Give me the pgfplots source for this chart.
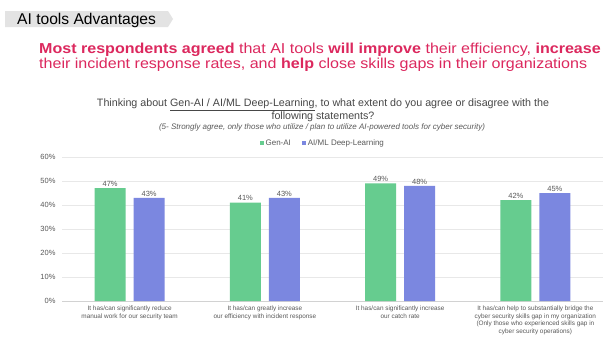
\documentclass[border=0pt]{standalone}
\usepackage{pgfplots}
\pgfplotsset{compat=1.18}
\usepackage{fontspec}
\setmainfont{Liberation Sans}
\newfontfamily\widefont[FakeStretch=1.115]{Liberation Sans}
\definecolor{cgreen}{RGB}{102,204,143}
\definecolor{cblue}{RGB}{123,135,224}
\definecolor{cpink}{RGB}{220,40,94}
\definecolor{ctext}{RGB}{89,89,89}
\begin{document}
\begin{tikzpicture}[x=1bp,y=-1bp]
\path[use as bounding box,fill=white] (0,0) rectangle (615,354);
% banner
\fill[gray!22] (5,11) -- (168,11) -- (173,19) -- (168,27) -- (5,27) -- cycle;
\node[anchor=base west,inner sep=0pt,font=\fontsize{15.6bp}{17bp}\selectfont] at (17,24) {AI tools Advantages};
% headline
\node[anchor=base west,inner sep=0pt,text=cpink,font=\widefont\fontsize{14.4bp}{15bp}\selectfont] at (39,53) {\textbf{Most respondents agreed} that AI tools \textbf{will improve} their efficiency, \textbf{increase}};
\node[anchor=base west,inner sep=0pt,text=cpink,font=\widefont\fontsize{14.4bp}{15bp}\selectfont] at (39,68) {their incident response rates, and \textbf{help} close skills gaps in their organizations};
% question
\node[anchor=base,inner sep=0pt,text=ctext!80!black,font=\fontsize{10.7bp}{12bp}\selectfont] at (323,106.5) {Thinking about \underline{Gen-AI / AI/ML Deep-Learning}, to what extent do you agree or disagree with the};
\node[anchor=base,inner sep=0pt,text=ctext!80!black,font=\fontsize{10.7bp}{12bp}\selectfont] at (323,119) {following statements?};
\node[anchor=base,inner sep=0pt,text=ctext,font=\fontsize{8bp}{9bp}\selectfont\itshape] at (322,129) {(5- Strongly agree, only those who utilize / plan to utilize AI-powered tools for cyber security)};
\begin{axis}[
  at={(62bp,-301bp)}, anchor=south west,
  scale only axis, width=541bp, height=144bp,
  ybar=8bp, bar width=31bp,
  xmin=-0.5, xmax=3.5, ymin=0, ymax=60,
  ytick={0,10,20,30,40,50,60},
  yticklabel={\pgfmathprintnumber{\tick}\%},
  xtick={0,1,2,3},
  xticklabels={{It has/can significantly reduce\\manual work for our security team},
    {It has/can greatly increase\\our efficiency with incident response},
    {It has/can significantly increase\\our catch rate},
    {It has/can help to substantially bridge the\\cyber security skills gap in my organization\\(Only those who experienced skills gap in\\cyber security operations)}},
  xticklabel style={align=center,font=\fontsize{6.4bp}{7.5bp}\selectfont,text=ctext,inner sep=0pt,yshift=-5bp},
  yticklabel style={font=\fontsize{7.5bp}{9bp}\selectfont,text=ctext,xshift=-3bp},
  /pgf/number format/assume math mode=true,
  major tick length=0pt,
  axis x line*=bottom, axis y line*=left,
  y axis line style={draw=none},
  x axis line style={draw=gray!35,line width=0.8pt},
  ymajorgrids, grid style={gray!18,line width=0.6pt},
  nodes near coords={\pgfmathprintnumber{\pgfplotspointmeta}\%},
  nodes near coords style={font=\fontsize{7.5bp}{9bp}\selectfont,text=ctext,inner sep=1.5bp},
  legend style={at={(0.482,1.097)},anchor=center,draw=none,fill=none,legend columns=2,
    font=\fontsize{8bp}{9bp}\selectfont,text=ctext,/tikz/every even column/.append style={column sep=9bp}},
  legend image code/.code={\fill[#1,draw=none] (0bp,-2bp) rectangle (4bp,2bp);},
]
\addplot[fill=cgreen,draw=none] coordinates {(0,47) (1,41) (2,49) (3,42)};
\addplot[fill=cblue,draw=none] coordinates {(0,43) (1,43) (2,48) (3,45)};
\legend{Gen-AI,AI/ML Deep-Learning}
\end{axis}
\end{tikzpicture}
\end{document}
